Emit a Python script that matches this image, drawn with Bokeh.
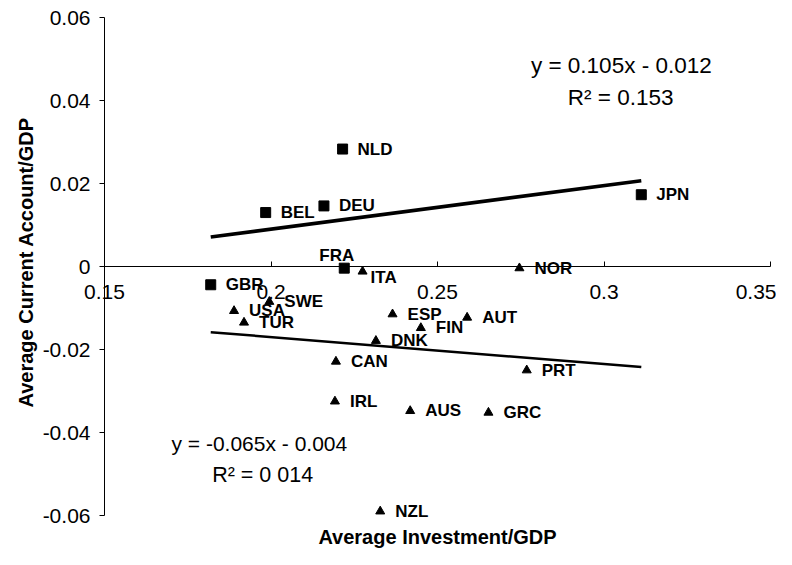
import math
from bokeh.plotting import figure
from bokeh.models import LinearAxis, FixedTicker, Label, ColumnDataSource, Range1d
from bokeh.core.properties import value
from bokeh.embed import file_html
from bokeh.resources import INLINE

# ---- data ----
sq_names = ["NLD", "BEL", "DEU", "FRA", "GBR", "JPN"]
sq_inv = [0.2215, 0.1984, 0.2159, 0.2220, 0.1819, 0.3112]
sq_ca = [0.0283, 0.0130, 0.0146, -0.0004, -0.0044, 0.0173]

tri_names = ["ITA", "NOR", "SWE", "USA", "TUR", "ESP", "FIN", "AUT", "DNK",
             "CAN", "PRT", "IRL", "AUS", "GRC", "NZL"]
tri_inv = [0.2275, 0.2746, 0.1995, 0.1889, 0.1919, 0.2365, 0.2450, 0.2589, 0.2315,
           0.2195, 0.2768, 0.2192, 0.2418, 0.2653, 0.2328]
tri_ca = [-0.0012, -0.0004, -0.0085, -0.0107, -0.0135, -0.0115, -0.0148, -0.0123, -0.0179,
          -0.0229, -0.0250, -0.0325, -0.0348, -0.0352, -0.0590]

sq_slope, sq_intercept, sq_r2 = 0.105, -0.012, "0.153"
tri_slope, tri_intercept, tri_r2 = -0.065, -0.004, "0 014"

x_ticks = [0.15, 0.2, 0.25, 0.3, 0.35]
x_tick_labels = ["0.15", "0.2", "0.25", "0.3", "0.35"]
y_ticks = [-0.06, -0.04, -0.02, 0, 0.02, 0.04, 0.06]
y_tick_labels = ["-0.06", "-0.04", "-0.02", "0", "0.02", "0.04", "0.06"]

# label placement (screen px offsets), default right of marker
default_off = (15, 0)
label_off = {"FRA": (-25, -13), "ITA": (8, 6)}

FONT = value("Liberation Sans")

# ---- layout: frame covers the whole canvas, axes drawn at fixed locations ----
W, H = 776, 549
axis_left_px, axis_top_px = 104, 17          # where x=0.15 and y=0.06 sit
px_per_x = 666.0 / (x_ticks[-1] - x_ticks[0])
px_per_y = 498.0 / (y_ticks[-1] - y_ticks[0])
x_lo = x_ticks[0] - axis_left_px / px_per_x
x_hi = x_lo + W / px_per_x
y_hi = y_ticks[-1] + axis_top_px / px_per_y
y_lo = y_hi - H / px_per_y

p = figure(width=W, height=H, x_range=Range1d(x_lo, x_hi), y_range=Range1d(y_lo, y_hi),
           x_axis_location=None, y_axis_location=None,
           output_backend="svg", toolbar_location=None,
           min_border_left=0, min_border_right=0, min_border_top=0, min_border_bottom=0)
p.grid.visible = False
p.outline_line_color = None
p.background_fill_color = "white"
p.border_fill_color = "white"

# y axis at x = 0.15
yax = LinearAxis(ticker=FixedTicker(ticks=y_ticks), fixed_location=x_ticks[0],
                 bounds=(y_ticks[0], y_ticks[-1]),
                 major_label_overrides={t: l for t, l in zip(y_ticks, y_tick_labels)})
yax.major_tick_out = 5
yax.major_tick_in = 0
yax.major_label_standoff = 9
yax.major_label_text_font = "Liberation Sans"
yax.major_label_text_font_size = "21px"
yax.major_label_text_color = "black"
yax.axis_line_color = "black"
yax.major_tick_line_color = "black"
p.add_layout(yax, "left")

# x axis crossing at y = 0
xax = LinearAxis(ticker=FixedTicker(ticks=x_ticks), fixed_location=0,
                 bounds=(x_ticks[0], x_ticks[-1]),
                 major_label_overrides={t: l for t, l in zip(x_ticks, x_tick_labels)})
xax.major_tick_out = 0
xax.major_tick_in = 5
xax.major_label_standoff = 18
xax.major_label_text_font = "Liberation Sans"
xax.major_label_text_font_size = "21px"
xax.major_label_text_color = "black"
xax.axis_line_color = "black"
xax.major_tick_line_color = "black"
p.add_layout(xax, "below")

# axis titles
p.add_layout(Label(x=(x_ticks[0] + x_ticks[-1]) / 2, y=y_ticks[0] - 21 / px_per_y,
                   text="Average Investment/GDP", text_align="center", text_baseline="middle",
                   text_font="Liberation Sans", text_font_style="bold", text_font_size="20px",
                   text_color="black"))
p.add_layout(Label(x=x_ticks[0] - 79 / px_per_x, y=0.001,
                   text="Average Current Account/GDP", text_align="center", text_baseline="middle",
                   angle=math.pi / 2,
                   text_font="Liberation Sans", text_font_style="bold", text_font_size="20px",
                   text_color="black"))

# trend lines over the full data range
all_x = sq_inv + tri_inv
x0, x1 = min(all_x), max(all_x)
p.line([x0, x1], [sq_slope * x0 + sq_intercept, sq_slope * x1 + sq_intercept],
       line_color="black", line_width=3.5)
p.line([x0, x1], [tri_slope * x0 + tri_intercept, tri_slope * x1 + tri_intercept],
       line_color="black", line_width=2.5)

# markers
p.scatter(sq_inv, sq_ca, marker="square", size=10, color="black")
p.scatter(tri_inv, tri_ca, marker="triangle", size=9, color="black")

# labels
names = sq_names + tri_names
ys = sq_ca + tri_ca
src = ColumnDataSource(dict(
    x=all_x, y=ys, t=names,
    xo=[label_off.get(n, default_off)[0] for n in names],
    yo=[label_off.get(n, default_off)[1] for n in names]))
p.text(x="x", y="y", text="t", x_offset="xo", y_offset="yo", source=src,
       text_font=FONT, text_font_style="bold", text_font_size="17px",
       text_baseline="middle", text_align="left", text_color="black")

# equations
def fmt(v):
    return f"{abs(v):.3f}"

eq1 = f"y = {sq_slope:.3f}x {'-' if sq_intercept < 0 else '+'} {fmt(sq_intercept)}"
eq2 = f"y = {tri_slope:.3f}x {'-' if tri_intercept < 0 else '+'} {fmt(tri_intercept)}"
for txt, xx, yy, fs in [(eq1, 0.3052, 0.0485, "22.5px"), (f"R\u00b2 = {sq_r2}", 0.3050, 0.0407, "22.5px"),
                        (eq2, 0.1965, -0.0427, "21px"), (f"R\u00b2 = {tri_r2}", 0.1975, -0.0502, "21.5px")]:
    p.add_layout(Label(x=xx, y=yy, text=txt, text_align="center", text_baseline="middle",
                       text_font="Liberation Sans", text_font_size=fs, text_color="black"))

open("out.html", "w").write(file_html(p, INLINE))
